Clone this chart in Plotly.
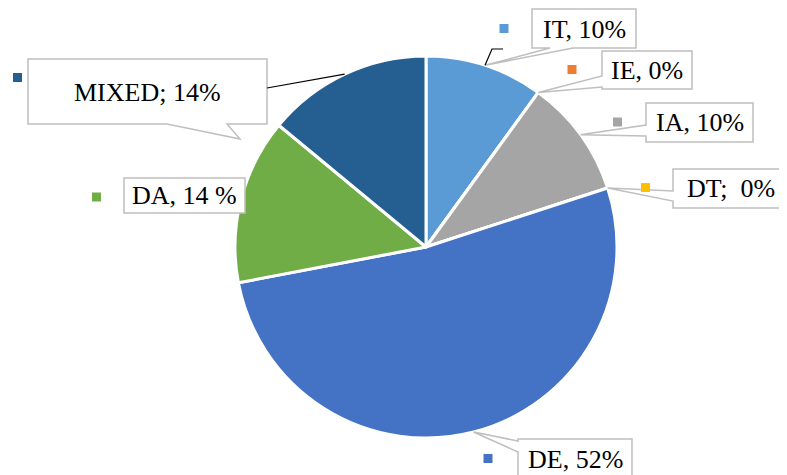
import math
import plotly.graph_objects as go

# ---- data ----
categories = ["IT", "IE", "IA", "DT", "DE", "DA", "MIXED"]
values = [10, 0, 10, 0, 52, 14, 14]
label_texts = ["IT, 10%", "IE, 0%", "IA, 10%", "DT;  0%", "DE, 52%", "DA, 14 %", "MIXED; 14%"]
colors = ["#5B9BD5", "#ED7D31", "#A5A5A5", "#FFC000", "#4472C4", "#70AD47", "#255E91"]

# ---- layout geometry (screen pixels) ----
W, H = 787, 475
OFF = 8  # page body margin in the browser
PIE_CX, PIE_CY, PIE_R = 426, 247, 191

def X(px):
    return (px - OFF) / W

def Y(py):
    return 1 - (py - OFF) / H

# pie angles from data (clockwise from 12 o'clock)
total = sum(values)
mids = []
acc = 0.0
for v in values:
    a0 = acc / total * 360
    acc += v
    a1 = acc / total * 360
    mids.append((a0 + a1) / 2)

def edge_point(angle_deg, r=PIE_R):
    t = math.radians(angle_deg)
    return (PIE_CX + r * math.sin(t), PIE_CY - r * math.cos(t))

fig = go.Figure(go.Pie(
    labels=categories, values=values, sort=False, direction="clockwise",
    rotation=0, marker=dict(colors=colors, line=dict(color="white", width=3)),
    textinfo="none", hoverinfo="label+percent", showlegend=False,
    domain=dict(x=[X(PIE_CX - PIE_R), X(PIE_CX + PIE_R)],
                y=[Y(PIE_CY + PIE_R), Y(PIE_CY - PIE_R)]),
))

# label boxes: (x0, y0, x1, y1), tail spec, marker center, text center
boxes = {
    "IT": ((532, 9, 636, 48), ("bottom", 550, 573), (504, 28.5), (584, 29)),
    "IE": ((602, 51, 692, 89), ("left", 76, 87), (572, 69.5), (647, 70)),
    "IA": ((646, 103, 753, 142), ("left", 125, 136), (617.5, 122), (699.5, 122.5)),
    "DT": ((673, 169, 800, 208), ("left", 191, 201), (645.5, 187.5), (731, 188.5)),
    "DE": ((518, 439, 632, 495), ("left", 441, 452), (488, 458.5), (575, 459)),
    "DA": ((124, 178, 245, 213), None, (96.5, 197), (184.5, 196)),
    "MIXED": ((28, 59, 267, 124), ("bottom", 167, 227), (17.5, 77.5), (147.5, 92)),
}
tips = {c: edge_point(mids[i]) for i, c in enumerate(categories)}
tips["MIXED"] = (240, 139)

shapes = []
annotations = []

def path_from(points):
    return "M " + " L ".join(f"{X(px):.5f},{Y(py):.5f}" for px, py in points) + " Z"

for i, c in enumerate(categories):
    (x0, y0, x1, y1), tail, (mx, my), (tx, ty) = boxes[c]
    tip = tips[c]
    if tail is None:
        pts = [(x0, y0), (x1, y0), (x1, y1), (x0, y1)]
    elif tail[0] == "bottom":
        a, b = tail[1], tail[2]
        pts = [(x0, y0), (x1, y0), (x1, y1), (b, y1), tip, (a, y1), (x0, y1)]
    else:
        a, b = tail[1], tail[2]
        pts = [(x0, y0), (x1, y0), (x1, y1), (x0, y1), (x0, b), tip, (x0, a)]
    shapes.append(dict(type="path", xref="paper", yref="paper", path=path_from(pts),
                       fillcolor="white", line=dict(color="#BFBFBF", width=1.5), layer="above"))
    s = 4.5
    shapes.append(dict(type="rect", xref="paper", yref="paper",
                       x0=X(mx - s), x1=X(mx + s), y0=Y(my + s), y1=Y(my - s),
                       fillcolor=colors[i], line=dict(width=0), layer="above"))
    annotations.append(dict(x=X(tx), y=Y(ty), xref="paper", yref="paper", text=label_texts[i],
                            showarrow=False, xanchor="center", yanchor="middle",
                            font=dict(family="Liberation Serif", size=26, color="black")))

# black leader lines
mixed_anchor = edge_point(mids[categories.index("MIXED")])
shapes.append(dict(type="path", xref="paper", yref="paper",
                   path=f"M {X(267):.5f},{Y(88):.5f} L {X(mixed_anchor[0]):.5f},{Y(mixed_anchor[1]):.5f}",
                   line=dict(color="black", width=1.2)))
it_anchor = edge_point(mids[0])
shapes.append(dict(type="path", xref="paper", yref="paper",
                   path=f"M {X(it_anchor[0]):.5f},{Y(it_anchor[1]):.5f} L {X(492):.5f},{Y(49):.5f} L {X(503):.5f},{Y(49):.5f}",
                   line=dict(color="black", width=1.2)))

fig.update_layout(width=W, height=H, margin=dict(l=0, r=0, t=0, b=0),
                  paper_bgcolor="white", plot_bgcolor="white",
                  shapes=shapes, annotations=annotations)
fig.write_html("out.html")
